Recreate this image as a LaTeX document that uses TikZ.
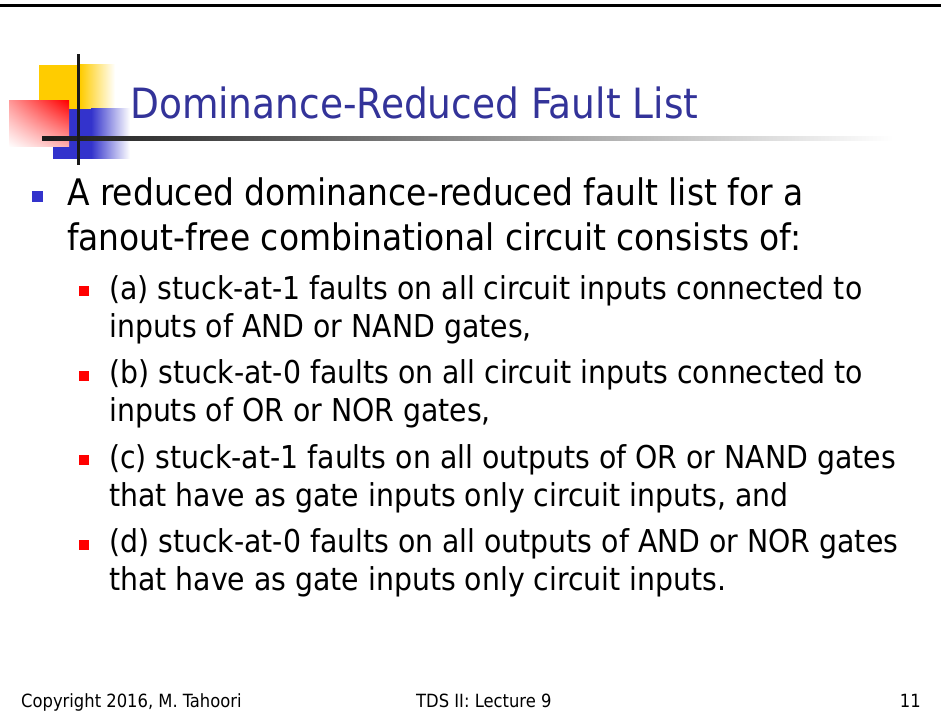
\documentclass[tikz,border=0pt]{standalone}
\usepackage{fontspec}
\setmainfont{DejaVu Sans Condensed}
\usetikzlibrary{shadings}
\definecolor{titleblue}{HTML}{333399}
\definecolor{lvlonebullet}{HTML}{3333CC}
\definecolor{logoyellow}{HTML}{FFCC00}
\definecolor{logoblue}{HTML}{3333CC}
\definecolor{logored}{HTML}{FF0000}
\tikzset{
  titletext/.style={anchor=base west, inner sep=0pt, text=titleblue,
    font=\fontsize{41.7}{50}\selectfont},
  lvlone/.style={anchor=base west, inner sep=0pt,
    font=\fontsize{36.6}{44}\selectfont},
  lvltwo/.style={anchor=base west, inner sep=0pt,
    font=\fontsize{31.5}{38}\selectfont},
  foot/.style={anchor=base west, inner sep=0pt,
    font=\fontsize{18.2}{22}\selectfont},
  bulletone/.style={rectangle, inner sep=0pt, minimum size=11.5pt, fill=lvlonebullet},
  bullettwo/.style={rectangle, inner sep=0pt, minimum size=10pt, fill=logored},
}
\begin{document}
\begin{tikzpicture}[x=1pt,y=-1pt]
  \useasboundingbox (0,0) rectangle (941,719);
  \fill[white] (0,0) rectangle (941,719);

  % top rule
  \fill[black] (0,4) rectangle (941,6.6);

  % logo: yellow and blue blocks with fading tails
  \fill[logoyellow] (39,65) rectangle (80,109);
  \shade[left color=logoyellow, right color=white] (80,65) rectangle (115,109);
  \fill[logoblue] (53,109) rectangle (91,159);
  \shade[left color=logoblue, right color=white] (91,109) rectangle (130,159);
  % red block, bright in the upper right corner
  \shade[upper left=logored!40!white, upper right=logored,
         lower left=white, lower right=logored!30!white] (9,101) rectangle (69,147);
  % title underline fading to the right
  \shade[left color=black!90, right color=white] (42,136.5) rectangle (893,140.5);
  % vertical bar
  \fill[black!90] (76.5,54) rectangle (79.5,165);

  % title
  \node[titletext] (title) at (130,119) {Dominance-Reduced Fault List};

  % first-level item
  \node[bulletone] (b0) at (37.5,196.5) {};
  \node[lvlone] (l0a) at (67,206) {A reduced dominance-reduced fault list for a};
  \node[lvlone] (l0b) at (67,250.5) {fanout-free combinational circuit consists of:};

  % second-level items
  \node[bullettwo] (ba) at (84,291) {};
  \node[lvltwo] (la1) at (109,299) {(a) stuck-at-1 faults on all circuit inputs connected to};
  \node[lvltwo] (la2) at (109,337) {inputs of AND or NAND gates,};

  \node[bullettwo] (bb) at (84,375.5) {};
  \node[lvltwo] (lb1) at (109,383.5) {(b) stuck-at-0 faults on all circuit inputs connected to};
  \node[lvltwo] (lb2) at (109,421.5) {inputs of OR or NOR gates,};

  \node[bullettwo] (bc) at (84,460) {};
  \node[lvltwo] (lc1) at (109,468) {(c) stuck-at-1 faults on all outputs of OR or NAND gates};
  \node[lvltwo] (lc2) at (109,506) {that have as gate inputs only circuit inputs, and};

  \node[bullettwo] (bd) at (84,544.5) {};
  \node[lvltwo] (ld1) at (109,552.5) {(d) stuck-at-0 faults on all outputs of AND or NOR gates};
  \node[lvltwo] (ld2) at (109,590) {that have as gate inputs only circuit inputs.};

  % footer
  \node[foot] (fl) at (21,707) {Copyright 2016, M. Tahoori};
  \node[foot] (fc) at (416,707) {TDS II: Lecture 9};
  \node[foot, anchor=base east] (fr) at (921,707) {11};
\end{tikzpicture}
\end{document}
